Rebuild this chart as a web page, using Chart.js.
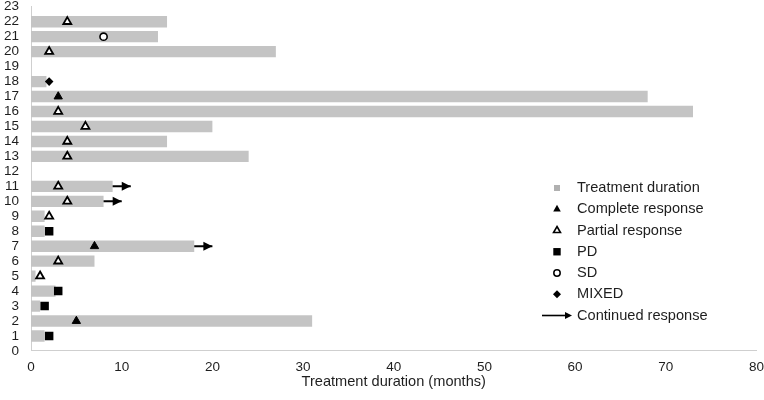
<!DOCTYPE html>
<html><head><meta charset="utf-8">
<script src="https://cdn.jsdelivr.net/npm/chart.js@4/dist/chart.umd.min.js"></script>
<style>html,body{margin:0;padding:0;background:#fff}#wrap{width:764px;height:400px}</style>
</head><body><div id="wrap"><canvas id="c" width="764" height="400"></canvas></div>
<script>
// ---- data ----
const patients  = [1, 2, 3, 4, 5, 6, 7, 8, 9, 10, 11, 13, 14, 15, 16, 17, 18, 20, 21, 22];
const durations = [1.5, 31, 1, 2.7, 0.5, 7, 18, 1.5, 1.5, 8, 9, 24, 15, 20, 73, 68, 1.7, 27, 14, 15];
const crPatients = [2, 7, 17];
const crMonths   = [5, 7, 3];
const prPatients = [5, 6, 9, 10, 11, 13, 14, 15, 16, 20, 22];
const prMonths   = [1, 3, 2, 4, 3, 4, 4, 6, 3, 2, 4];
const pdPatients = [1, 3, 4, 8];
const pdMonths   = [2, 1.5, 3, 2];
const sdPatients = [21];
const sdMonths   = [8];
const mixedPatients = [18];
const mixedMonths   = [2];
const contPatients = [7, 10, 11];
const contEnd      = [20, 10, 11];
const xTicks = [0, 10, 20, 30, 40, 50, 60, 70, 80];
const yTicks = [0,1,2,3,4,5,6,7,8,9,10,11,12,13,14,15,16,17,18,19,20,21,22,23];
const xTitle = 'Treatment duration (months)';
const legendLabels = ['Treatment duration', 'Complete response', 'Partial response', 'PD', 'SD', 'MIXED', 'Continued response'];

// ---- build ----
const FONT = '"Liberation Sans", Arial, Helvetica, sans-serif';
const TXT = '#1e1e1e';
const BAR = '#c4c4c4';
const pts = (ps, ms) => ps.map((p, i) => ({x: ms[i], y: p}));

const datasets = [];
datasets.push({
  type: 'scatter', label: 'CR', data: pts(crPatients, crMonths),
  pointStyle: 'triangle', radius: 4.8, backgroundColor: '#000', borderColor: '#000', borderWidth: 1, order: 1
});
datasets.push({
  type: 'scatter', label: 'PR', data: pts(prPatients, prMonths),
  pointStyle: 'triangle', radius: 4.6, backgroundColor: '#fff', borderColor: '#000', borderWidth: 1.8, order: 1
});
datasets.push({
  type: 'scatter', label: 'PD', data: pts(pdPatients, pdMonths),
  pointStyle: 'rect', radius: 6, backgroundColor: '#000', borderColor: '#000', borderWidth: 0, order: 1
});
datasets.push({
  type: 'scatter', label: 'SD', data: pts(sdPatients, sdMonths),
  pointStyle: 'circle', radius: 3.6, backgroundColor: '#fff', borderColor: '#000', borderWidth: 1.6, order: 1
});
datasets.push({
  type: 'scatter', label: 'MIXED', data: pts(mixedPatients, mixedMonths),
  pointStyle: 'rectRot', radius: 4.3, backgroundColor: '#000', borderColor: '#000', borderWidth: 0, order: 1
});
contPatients.forEach((p, i) => {
  const start = durations[patients.indexOf(p)];
  datasets.push({
    type: 'line', label: 'cont' + p, arrowHead: true,
    data: [{x: start, y: p}, {x: contEnd[i], y: p}],
    borderColor: '#000', borderWidth: 2, pointRadius: 0, fill: false, order: 2
  });
});
datasets.push({
  type: 'bar', label: 'Treatment duration', data: pts(patients, durations),
  backgroundColor: BAR, borderWidth: 0, barPercentage: 0.76, categoryPercentage: 1, order: 3
});

const arrowPlugin = {
  id: 'arrowHeads',
  afterDatasetsDraw(chart) {
    const ctx = chart.ctx;
    chart.data.datasets.forEach((ds, i) => {
      if (!ds.arrowHead) return;
      const meta = chart.getDatasetMeta(i);
      const last = meta.data[meta.data.length - 1];
      ctx.save();
      ctx.fillStyle = '#000';
      ctx.beginPath();
      ctx.moveTo(last.x, last.y);
      ctx.lineTo(last.x - 9, last.y - 4.5);
      ctx.lineTo(last.x - 9, last.y + 4.5);
      ctx.closePath();
      ctx.fill();
      ctx.restore();
    });
  }
};

function drawMarker(ctx, k, x, y) {
  ctx.save();
  ctx.fillStyle = '#000'; ctx.strokeStyle = '#000';
  const tri = (r) => {
    ctx.beginPath();
    ctx.moveTo(x, y - r);
    ctx.lineTo(x + r * 0.866, y + r * 0.5);
    ctx.lineTo(x - r * 0.866, y + r * 0.5);
    ctx.closePath();
  };
  if (k === 0) { ctx.fillStyle = '#b0b0b0'; ctx.fillRect(x - 3, y - 3, 6, 6); }
  else if (k === 1) { tri(4.4); ctx.fill(); }
  else if (k === 2) { tri(4.0); ctx.fillStyle = '#fff'; ctx.fill(); ctx.lineWidth = 1.6; ctx.stroke(); }
  else if (k === 3) { ctx.fillRect(x - 3.7, y - 3.7, 7.4, 7.4); }
  else if (k === 4) { ctx.beginPath(); ctx.arc(x, y, 3.2, 0, Math.PI * 2); ctx.fillStyle = '#fff'; ctx.fill(); ctx.lineWidth = 1.5; ctx.stroke(); }
  else if (k === 5) { ctx.beginPath(); ctx.moveTo(x, y - 4); ctx.lineTo(x + 4, y); ctx.lineTo(x, y + 4); ctx.lineTo(x - 4, y); ctx.closePath(); ctx.fill(); }
  else if (k === 6) {
    ctx.lineWidth = 1.6; ctx.beginPath(); ctx.moveTo(x - 15, y); ctx.lineTo(x + 10, y); ctx.stroke();
    ctx.beginPath(); ctx.moveTo(x + 15, y); ctx.lineTo(x + 8, y - 3.5); ctx.lineTo(x + 8, y + 3.5); ctx.closePath(); ctx.fill();
  }
  ctx.restore();
}

const legendPlugin = {
  id: 'customLegend',
  afterDraw(chart) {
    const ctx = chart.ctx;
    const mx = 557, tx = 577, y0 = 188, dy = 21.25;
    ctx.save();
    ctx.font = '14.6px ' + FONT;
    ctx.fillStyle = TXT;
    ctx.textBaseline = 'middle';
    ctx.textAlign = 'left';
    legendLabels.forEach((lab, k) => {
      const y = y0 + k * dy;
      drawMarker(ctx, k, mx, y);
      ctx.fillStyle = TXT;
      ctx.fillText(lab, tx, y);
    });
    ctx.restore();
  }
};

new Chart(document.getElementById('c'), {
  type: 'bar',
  data: {datasets},
  options: {
    indexAxis: 'y',
    responsive: false,
    animation: false,
    devicePixelRatio: 1,
    layout: {autoPadding: false, padding: {left: 4, right: 0, top: 0, bottom: 9}},
    plugins: {legend: {display: false}, tooltip: {enabled: false}},
    scales: {
      x: {
        type: 'linear', min: 0, max: 80,
        afterBuildTicks: (s) => { s.ticks = xTicks.map(v => ({value: v})); },
        grid: {display: false, drawTicks: true, tickLength: 8},
        border: {display: true, color: '#cfcfcf', width: 1},
        ticks: {color: TXT, font: {family: FONT, size: 13.5}, padding: 0},
        title: {display: true, text: xTitle, color: TXT, font: {family: FONT, size: 14.6}, padding: {top: -1.7, bottom: 0}}
      },
      y: {
        type: 'linear', min: 0, max: 23, offset: false,
        afterBuildTicks: (s) => { s.ticks = yTicks.map(v => ({value: v})); },
        grid: {display: false, drawTicks: true, tickLength: 12},
        border: {display: true, color: '#cfcfcf', width: 1},
        ticks: {color: TXT, font: {family: FONT, size: 13.5, lineHeight: 1}, padding: 0, autoSkip: false}
      }
    }
  },
  plugins: [arrowPlugin, legendPlugin]
});
</script>
</body></html>
